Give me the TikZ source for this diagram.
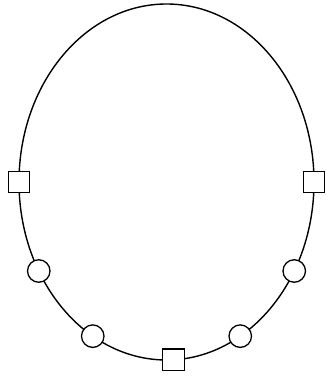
\documentclass[tikz,border=0pt]{standalone}
\usepackage{amsmath}
\usepackage{amssymb}
\usetikzlibrary{calc}

\tikzset{
  carre/.style={draw, fill=white, line width=1.3pt, minimum size=21.5pt, inner sep=0pt},
  rond/.style={draw, fill=white, circle, line width=1.3pt, minimum size=22.5pt, inner sep=0pt}
}

\begin{document}
\begin{tikzpicture}[x=1pt,y=1pt]
\useasboundingbox (0,0) rectangle (325,378);
%contour
\coordinate (centre) at (166.5,196);
\draw[line width=1.4pt] (centre) ellipse [x radius=147.5, y radius=178];

%carres sur le contour
\foreach \a/\nom in {0/carreE,180/carreO,272.7/carreS}
  \node[carre] (\nom) at ($(centre)+({147.5*cos(\a)},{178*sin(\a)})$) {};
%ronds
\foreach \a/\nom in {210/rondA,240/rondB,300/rondC,330/rondD}
  \node[rond] (\nom) at ($(centre)+({147.5*cos(\a)},{178*sin(\a)})$) {};

\end{tikzpicture}
\end{document}
